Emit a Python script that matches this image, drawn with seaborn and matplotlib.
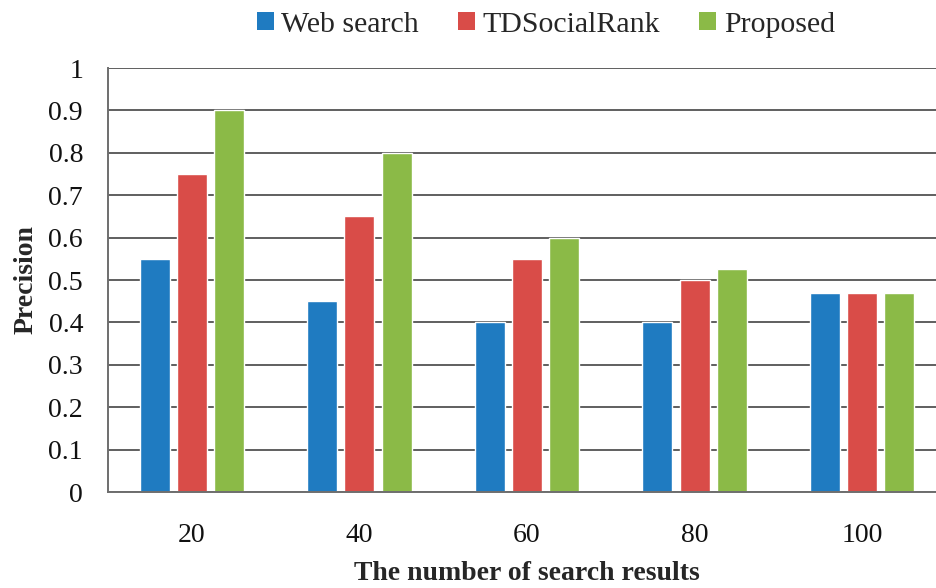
import matplotlib
matplotlib.use("Agg")
import matplotlib.pyplot as plt
import seaborn as sns
import pandas as pd
from matplotlib.patches import Patch

# dados
resultados = ["20", "40", "60", "80", "100"]
metodos = ["Web search", "TDSocialRank", "Proposed"]
web_search = [0.55, 0.45, 0.40, 0.40, 0.47]
td_social_rank = [0.75, 0.65, 0.55, 0.50, 0.47]
proposed = [0.90, 0.80, 0.60, 0.525, 0.47]
cores = ["#1F7BC1", "#D94C48", "#8BBA47"]

valores = [web_search, td_social_rank, proposed]
linhas = []
for metodo, serie in zip(metodos, valores):
    for r, v in zip(resultados, serie):
        linhas.append({"resultado": r, "metodo": metodo, "precisao": v})
df = pd.DataFrame(linhas)

sns.set_theme(style="white")
plt.rcParams["font.family"] = ["Liberation Serif", "DejaVu Serif"]

fig = plt.figure(figsize=(9.36, 5.88), dpi=100)
ax = fig.add_axes([108 / 936, 1 - 492 / 588, 838 / 936, 424 / 588])

sns.barplot(data=df, x="resultado", y="precisao", hue="metodo",
            order=resultados, hue_order=metodos, palette=cores,
            width=0.665, gap=0.19, saturation=1, legend=False, ax=ax)

ax.set_ylim(0, 1)
ax.set_xlim(-0.5, 4.5)
ax.set_yticks([i / 10 for i in range(11)])
ax.set_yticklabels(["0"] + [f"0.{i}" for i in range(1, 10)] + ["1"])
ax.yaxis.grid(True, color="#5f5f5f", linewidth=1.4)
ax.set_axisbelow(True)
for lado in ["top", "right"]:
    ax.spines[lado].set_visible(False)
for lado in ["left", "bottom"]:
    ax.spines[lado].set_color("#6e6e6e")
    ax.spines[lado].set_linewidth(1.4)

ax.tick_params(axis="x", length=0, pad=22, labelsize=20, colors="#111111")
ax.tick_params(axis="y", length=0, pad=18, labelsize=20, colors="#111111")
ax.set_xlabel("The number of search results", fontsize=20, fontweight="bold", labelpad=10)
ax.set_ylabel("Precision", fontsize=20, fontweight="bold", labelpad=7)

handles = [Patch(facecolor=c, edgecolor="none") for c in cores]
fig.legend(handles, metodos, loc="center", bbox_to_anchor=(0.583, 0.958), ncol=3,
           frameon=False, fontsize=21.5, handlelength=0.58, handleheight=0.55,
           handletextpad=0.25, columnspacing=1.3)

fig.savefig("out.png", dpi=100)
